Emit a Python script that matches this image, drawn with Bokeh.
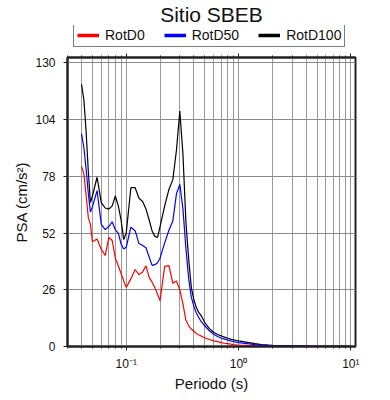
from bokeh.plotting import figure
from bokeh.layouts import column
from bokeh.models import (ColumnDataSource, FixedTicker, LogAxis, Legend, LegendItem,
                          CustomJSTickFormatter, Range1d)
from bokeh.embed import file_html
from bokeh.resources import INLINE

title_text = "Sitio SBEB"
x_label = "Periodo (s)"
y_label = "PSA (cm/s²)"
series_names = ["RotD0", "RotD50", "RotD100"]
series_colors = ["#ff0000", "#0000ff", "#000000"]

periods = [0.04, 0.042, 0.044, 0.046, 0.048, 0.05, 0.055, 0.06, 0.065, 0.07,
           0.075, 0.08, 0.085, 0.09, 0.095, 0.10, 0.11, 0.12, 0.13, 0.14,
           0.15, 0.16, 0.17, 0.18, 0.19, 0.20, 0.22, 0.24, 0.26, 0.28,
           0.30, 0.32, 0.34, 0.36, 0.38, 0.40, 0.42, 0.44, 0.46, 0.48,
           0.50, 0.55, 0.60, 0.65, 0.70, 0.75, 0.80, 0.85, 0.90, 0.95,
           1.0, 1.2, 1.4, 1.6, 1.8, 2.0, 2.5, 3.0, 3.5, 4.0,
           5.0, 6.0, 7.0, 8.0, 9.0, 10.0]

rotd0 = [82.6, 79.0, 69.0, 59.0, 56.0, 48.0, 49.3, 44.5, 41.7, 50.0,
         48.6, 40.5, 37.0, 33.5, 30.0, 27.1, 31.0, 35.3, 33.0, 34.2,
         37.0, 31.7, 29.5, 27.0, 24.0, 21.0, 36.7, 37.1, 29.0, 30.0,
         26.0, 19.5, 12.0, 9.5, 8.0, 7.0, 6.0, 5.4, 4.9, 4.4,
         4.0, 3.2, 2.6, 2.2, 1.8, 1.5, 1.3, 1.1, 0.9, 0.75,
         0.65, 0.5, 0.38, 0.3, 0.25, 0.2, 0.15, 0.12, 0.1, 0.08,
         0.06, 0.05, 0.04, 0.035, 0.03, 0.025]

rotd50 = [97.6, 91.0, 81.0, 70.0, 61.6, 64.0, 71.5, 56.0, 53.6, 55.0,
          57.2, 53.5, 52.0, 47.0, 44.7, 45.5, 54.7, 53.1, 47.2, 46.3,
          45.3, 41.0, 37.2, 37.5, 38.4, 40.5, 47.5, 53.3, 57.5, 70.0,
          74.3, 63.0, 45.0, 31.0, 22.5, 18.5, 15.5, 13.5, 11.8, 10.6,
          9.5, 7.2, 5.6, 4.6, 3.9, 3.4, 3.0, 2.6, 2.3, 2.0,
          1.8, 1.3, 0.9, 0.65, 0.5, 0.4, 0.28, 0.2, 0.16, 0.13,
          0.1, 0.08, 0.06, 0.05, 0.04, 0.035]

rotd100 = [120.2, 113.0, 98.0, 80.0, 66.0, 69.0, 77.6, 66.0, 63.5, 63.0,
           64.5, 69.0, 64.5, 58.0, 49.0, 52.0, 72.8, 72.8, 68.0, 66.5,
           63.0, 58.0, 53.0, 50.5, 50.0, 55.0, 64.5, 72.0, 76.5, 90.0,
           107.9, 88.0, 57.0, 40.0, 27.0, 21.5, 18.0, 15.8, 14.5, 12.8,
           11.0, 8.2, 6.5, 5.5, 4.9, 4.3, 3.8, 3.4, 3.1, 2.8,
           2.6, 1.9, 1.3, 0.9, 0.7, 0.5, 0.35, 0.25, 0.2, 0.16,
           0.12, 0.1, 0.08, 0.06, 0.05, 0.045]

y_ticks = [0, 26, 52, 78, 104, 130]
x_major = [0.1, 1.0, 10.0]
x_minor = [round(m * d, 4) for d in (0.01, 0.1, 1.0) for m in range(2, 10)]
x_limits = (0.03, 11.0)
y_limits = (0, 132.5)

FONT = "Liberation Sans"
FRAME = "#222222"

# ---- header figure: title + legend ----
head = figure(width=390, height=50, output_backend="svg", toolbar_location=None,
              x_axis_location=None, y_axis_location=None,
              x_range=Range1d(0, 1), y_range=Range1d(0, 1),
              min_border_left=0, min_border_right=0, min_border_top=0, min_border_bottom=0)
head.outline_line_color = None
head.grid.visible = False
head.title.text = title_text
head.title.align = "center"
head.title.text_font = FONT
head.title.text_font_size = "21px"
head.title.text_font_style = "normal"
head.title.text_color = "#111111"
head.title.standoff = 0
head.title.offset = 0

# legend-only renderers (no visible data; they only supply the legend swatches)
swatch = ColumnDataSource(data=dict(T=[float("nan")], v=[float("nan")]))
leg_rs = [head.line("T", "v", source=swatch, line_color=c, line_width=3.5) for c in series_colors]
legend = Legend(items=[LegendItem(label=n, renderers=[r]) for n, r in zip(series_names, leg_rs)],
                orientation="horizontal", location=(6, 3),
                glyph_width=22, glyph_height=10, label_height=10, label_standoff=6,
                spacing=19, padding=3, margin=0,
                label_text_font=FONT, label_text_font_size="14px", label_text_color="#111111",
                border_line_color="black", border_line_width=1.5,
                background_fill_color="white", background_fill_alpha=1)
head.add_layout(legend)

# ---- main figure ----
p = figure(width=390, height=350, x_axis_type="log",
           x_range=Range1d(*x_limits), y_range=Range1d(*y_limits),
           output_backend="svg", toolbar_location=None,
           min_border_left=67, min_border_right=35,
           min_border_top=7, min_border_bottom=54)

p.outline_line_color = FRAME
p.outline_line_width = 2

xticker = FixedTicker(ticks=x_major, minor_ticks=x_minor)
fmt = CustomJSTickFormatter(code="""
const e = Math.round(Math.log10(tick));
const sup = {"-": "\\u207b", "0": "\\u2070", "1": "\\u00b9", "2": "\\u00b2", "3": "\\u00b3",
             "4": "\\u2074", "5": "\\u2075", "6": "\\u2076", "7": "\\u2077", "8": "\\u2078", "9": "\\u2079"};
return "10" + String(e).split("").map(c => sup[c]).join("");
""")

xa = p.xaxis[0]
xa.ticker = xticker
xa.formatter = fmt
xa.axis_label = x_label
ya = p.yaxis[0]
ya.ticker = FixedTicker(ticks=y_ticks)
ya.axis_label = y_label

for ax in (xa, ya):
    ax.axis_line_color = FRAME
    ax.axis_line_width = 2
    ax.major_tick_line_color = FRAME
    ax.major_tick_in = 0
    ax.major_tick_out = 4
    ax.major_label_text_font = FONT
    ax.major_label_text_font_size = "12px"
    ax.major_label_text_color = "#111111"
    ax.axis_label_text_font = FONT
    ax.axis_label_text_font_size = "15px"
    ax.axis_label_text_font_style = "normal"
    ax.axis_label_text_color = "#111111"

xa.minor_tick_line_color = FRAME
xa.minor_tick_in = 0
xa.minor_tick_out = 2
xa.major_label_standoff = 6
xa.axis_label_standoff = 1
ya.minor_tick_line_color = None
ya.major_label_standoff = 8
ya.axis_label_standoff = 2

top = LogAxis(ticker=xticker, axis_line_color=FRAME, axis_line_width=2,
              major_tick_line_color=FRAME, major_tick_in=0, major_tick_out=4,
              minor_tick_line_color=FRAME, minor_tick_in=0, minor_tick_out=2,
              major_label_standoff=0, major_label_text_alpha=0,
              major_label_text_font_size="1px")
p.add_layout(top, "above")

p.xgrid.grid_line_color = "#9a9a9a"
p.xgrid.minor_grid_line_color = "#9a9a9a"
p.ygrid.grid_line_color = "#8a8a8a"

src = ColumnDataSource(data=dict(T=periods, d0=rotd0, d50=rotd50, d100=rotd100))
for col, c in (("d0", series_colors[0]), ("d100", series_colors[2]), ("d50", series_colors[1])):
    p.line("T", col, source=src, line_color=c, line_width=1.2)

layout = column(head, p, spacing=0)
open("out.html", "w").write(file_html(layout, INLINE))
